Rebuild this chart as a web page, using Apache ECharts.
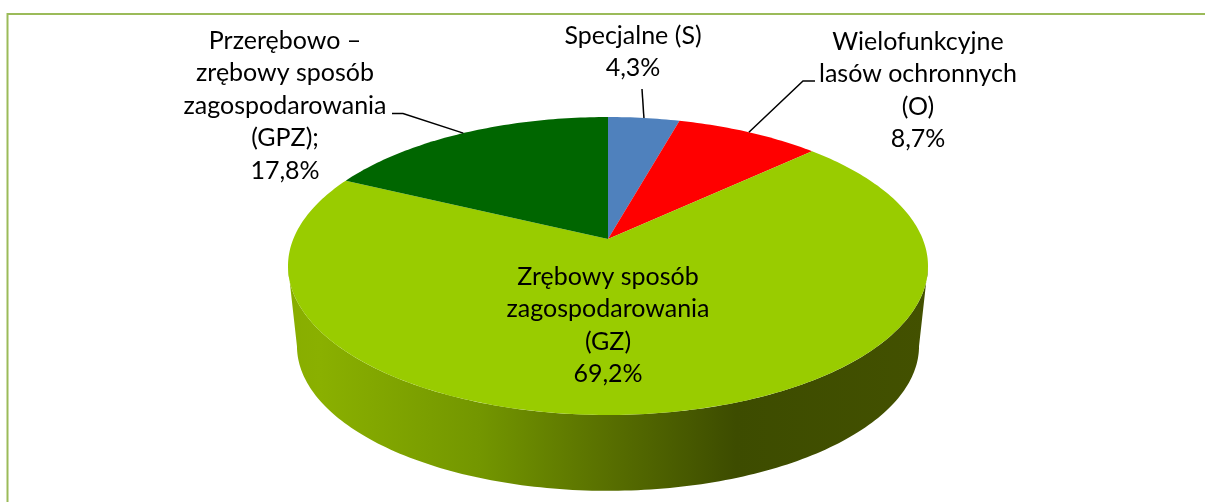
<!DOCTYPE html>
<html><head><meta charset="utf-8">
<style>html,body{margin:0;padding:0;background:#fff}#c{width:1205px;height:502px}</style>
<script src="https://cdn.jsdelivr.net/npm/echarts@6/dist/echarts.min.js"></script>
</head><body><div id="c"></div>
<script>
const sliceNames = ['Specjalne (S)', 'Wielofunkcyjne\nlasów ochronnych\n(O)', 'Zrębowy sposób\nzagospodarowania\n(GZ)', 'Przerębowo –\nzrębowy sposób\nzagospodarowania\n(GPZ);'];
const sliceValues = [4.3, 8.7, 69.2, 17.8];
const sliceColors = ['#4f81bd', '#ff0000', '#99cc00', '#006600'];

// Layout of the tilted disc
const apex = [608, 239], tilt = 0.1812, radX = 314.7, radY = 144.1;
const depthY = 80, depthScale = 0.972, discCenterY = 266;
const fontFamily = 'Lato, Carlito, sans-serif', fontSize = 25, lineH = 32.4;
const labelPos = [[633, 36], [918, 42], [608, 277], [285, 41]];
const leaderFrom = [[[642, 89]], [[815, 81], [803, 81]], null, [[392, 113.5], [403, 113.5]]];

function rim(deg) {
  const t = deg * Math.PI / 180, u = Math.sin(t), v = Math.cos(t), w = 1 + tilt * v;
  return [apex[0] + radX * u / w, apex[1] - radY * v / w];
}
function lowerRim(deg) {
  const p = rim(deg);
  return [apex[0] + (p[0] - apex[0]) * depthScale, discCenterY + depthY + (p[1] - discCenterY) * depthScale];
}
const total = sliceValues.reduce((a, b) => a + b, 0);
function startOf(i) { return sliceValues.slice(0, i).reduce((a, b) => a + b, 0) / total * 360; }

function renderItem(params, api) {
  const i = params.dataIndex, val = api.value(0);
  const a0 = startOf(i), a1 = a0 + val / total * 360, kids = [];
  // visible wall of the disc: the front part of this slice's rim
  const front0 = Math.acos(-tilt) * 180 / Math.PI, front1 = 360 - front0;
  const s0 = Math.max(a0, front0), s1 = Math.min(a1, front1);
  if (s1 > s0) {
    const up = [], lo = [];
    for (let d = s0; d <= s1; d += 1) { up.push(rim(d)); lo.unshift(lowerRim(d)); }
    kids.push({ type: 'polygon', shape: { points: up.concat(lo) }, style: {
      fill: new echarts.graphic.LinearGradient(0, 0, 1, 0, [
        { offset: 0, color: '#88ad00' }, { offset: 0.05, color: '#8ab000' }, { offset: 0.3, color: '#739600' },
        { offset: 0.5, color: '#586f00' }, { offset: 0.7, color: '#3d4c00' }, { offset: 1, color: '#435100' }
      ]) } });
  }
  const pts = [apex];
  const n = Math.ceil(a1 - a0);
  for (let k = 0; k <= n; k++) pts.push(rim(a0 + (a1 - a0) * k / n));
  kids.push({ type: 'polygon', shape: { points: pts }, style: { fill: sliceColors[i] } });
  // leader line to the middle of the slice's rim
  if (leaderFrom[i]) {
    kids.push({ type: 'polyline', shape: { points: leaderFrom[i].concat([rim((a0 + a1) / 2)]) },
      style: { stroke: '#000', lineWidth: 1.5, fill: null } });
  }
  const lines = (sliceNames[i] + '\n' + val.toFixed(1).replace('.', ',') + '%').split('\n');
  lines.forEach((t, k) => kids.push({ type: 'text', z2: 10, style: {
    text: t, x: labelPos[i][0], y: labelPos[i][1] + k * lineH, align: 'center', verticalAlign: 'middle',
    fontFamily, fontSize, fill: '#000' } }));
  return { type: 'group', children: kids };
}

const chart = echarts.init(document.getElementById('c'), null, { renderer: 'canvas' });
chart.setOption({
  animation: false,
  graphic: [{ type: 'polyline', shape: { points: [[7.5, 502], [7.5, 14], [1205, 14]] },
    style: { stroke: '#9bbb59', lineWidth: 2, fill: null } }],
  series: [{ type: 'custom', coordinateSystem: 'none', renderItem, silent: true,
    data: sliceValues.map((v, i) => ({ name: sliceNames[i], value: [v] })) }]
});
</script></body></html>
